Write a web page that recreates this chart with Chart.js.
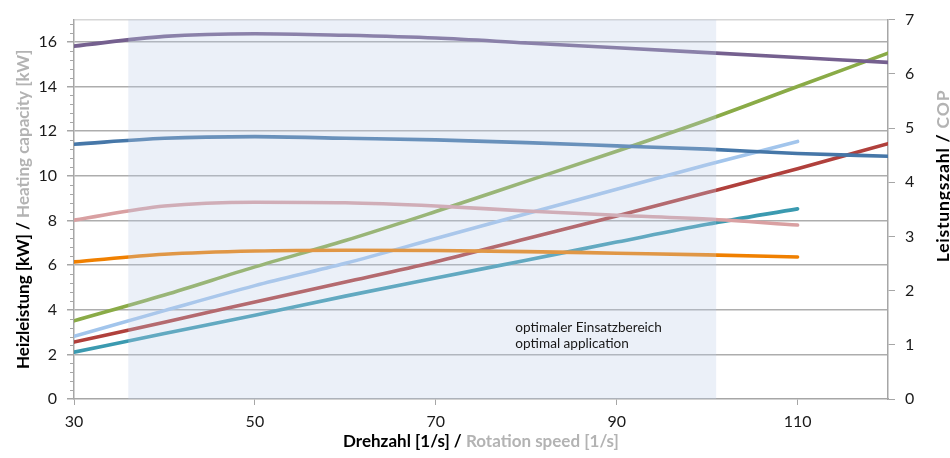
<!DOCTYPE html>
<html><head><meta charset="utf-8">
<script src="https://cdn.jsdelivr.net/npm/chart.js@4/dist/chart.umd.min.js"></script>
<style>html,body{margin:0;padding:0;background:#fff}#wrap{width:950px;height:458px;position:relative}</style>
</head><body><div id="wrap"><canvas id="c"></canvas></div>
<script>
// ---- data ----
const speeds = [30, 40, 50, 60, 70, 80, 90, 100, 110, 120];
const xTicks = [30, 50, 70, 90, 110];
const capTicks = [0, 2, 4, 6, 8, 10, 12, 14, 16, 17];
const copTicks = [0, 1, 2, 3, 4, 5, 6, 7];
// Heizleistung [kW] (left axis)
const capGreen = [3.5, 4.66, 5.92, 7.1, 8.4, 9.75, 11.1, 12.5, 14.0, 15.5];
const capRed = [2.55, 3.44, 4.35, 5.24, 6.15, 7.18, 8.2, 9.25, 10.32, 11.44];
const capLightBlue = [2.81, 3.96, 5.08, 6.08, 7.19, 8.3, 9.4, 10.5, 11.54];
const capTeal = [2.1, 2.93, 3.75, 4.61, 5.42, 6.22, 7.03, 7.83, 8.52];
// Leistungszahl / COP (right axis)
const copPurple = [6.51, 6.69, 6.74, 6.71, 6.66, 6.57, 6.48, 6.39, 6.30, 6.21];
const copBlue = [4.70, 4.81, 4.84, 4.81, 4.78, 4.73, 4.67, 4.61, 4.53, 4.48];
const copPink = [3.30, 3.56, 3.63, 3.62, 3.56, 3.47, 3.39, 3.32, 3.21];
const copOrange = [2.53, 2.67, 2.73, 2.745, 2.74, 2.72, 2.69, 2.66, 2.62];
// optimal range of rotation speed
const optimalRange = [36, 101];
const annotationLines = ['optimaler Einsatzbereich', 'optimal application'];

// ---- styling ----
const FONT = 'Lato, "Open Sans", sans-serif';
const pts = (arr) => arr.map((v, i) => ({ x: speeds[i], y: v }));
const ds = (label, arr, color, axis) => ({
  label, data: pts(arr), borderColor: color, backgroundColor: color,
  borderWidth: 3.6, pointRadius: 0, cubicInterpolationMode: 'monotone',
  yAxisID: axis, fill: false, borderCapStyle: 'round'
});

const decor = {
  id: 'decor',
  afterDatasetsDraw(chart) {
    const { ctx, chartArea: a, scales } = chart;
    const x = scales.x, y = scales.y;
    const x0 = x.getPixelForValue(optimalRange[0]);
    const x1 = x.getPixelForValue(optimalRange[1]);
    ctx.save();
    ctx.fillStyle = 'rgba(188,205,232,0.3)';
    ctx.fillRect(x0, a.top, x1 - x0, a.bottom - a.top);
    ctx.fillStyle = '#1a1a1a';
    ctx.font = '13.6px ' + FONT;
    ctx.textBaseline = 'middle';
    ctx.textAlign = 'left';
    const ax = x.getPixelForValue(78.8);
    ctx.fillText(annotationLines[0], ax, y.getPixelForValue(3.2));
    ctx.fillText(annotationLines[1], ax, y.getPixelForValue(2.5));
    ctx.restore();
  },
  afterDraw(chart) {
    const { ctx, chartArea: a, scales } = chart;
    const y = scales.y;
    ctx.save();
    // minor ticks on left axis
    ctx.strokeStyle = '#a6a6a6';
    ctx.lineWidth = 1;
    for (let i = 1; i * 0.4 < 17; i++) {
      if (i % 5 === 0) continue;
      const py = Math.round(y.getPixelForValue(i * 0.4)) + 0.5;
      ctx.beginPath(); ctx.moveTo(a.left - 4, py); ctx.lineTo(a.left, py); ctx.stroke();
    }
    // axis titles (two-coloured)
    const drawTitle = (parts, cx, cy, rot, size, spacing) => {
      ctx.save();
      ctx.translate(cx, cy);
      ctx.rotate(rot);
      ctx.font = 'bold ' + size + 'px ' + FONT;
      if ('letterSpacing' in ctx) ctx.letterSpacing = spacing + 'px';
      ctx.textBaseline = 'middle';
      ctx.textAlign = 'left';
      const w = parts.reduce((s, p) => s + ctx.measureText(p[0]).width, 0);
      let xx = -w / 2;
      parts.forEach(p => { ctx.fillStyle = p[1]; ctx.fillText(p[0], xx, 0); xx += ctx.measureText(p[0]).width; });
      ctx.restore();
    };
    drawTitle([['Heizleistung [kW] / ', '#000'], ['Heating capacity [kW]', '#b3b3b3']], 24, (a.top + a.bottom) / 2, -Math.PI / 2, 17, 0);
    drawTitle([['Leistungszahl / ', '#000'], ['COP', '#b3b3b3']], 943, 176, -Math.PI / 2, 17.5, 0.8);
    drawTitle([['Drehzahl [1/s] / ', '#000'], ['Rotation speed [1/s]', '#b3b3b3']], (a.left + a.right) / 2, 442, 0, 17, 0);
    ctx.restore();
  }
};

new Chart(document.getElementById('c'), {
  type: 'line',
  data: {
    datasets: [
      ds('COP 1', copPurple, '#75608f', 'y2'),
      ds('COP 2', copBlue, '#4677a8', 'y2'),
      ds('COP 3', copPink, '#d9a0a2', 'y2'),
      ds('COP 4', copOrange, '#f08000', 'y2'),
      ds('Heizleistung 1', capGreen, '#8aab47', 'y'),
      ds('Heizleistung 3', capLightBlue, '#a2c5ec', 'y'),
      ds('Heizleistung 2', capRed, '#b0403c', 'y'),
      ds('Heizleistung 4', capTeal, '#3b9ab0', 'y')
    ]
  },
  options: {
    responsive: true, maintainAspectRatio: false, animation: false,
    layout: { padding: { top: 16, left: 0, right: 0, bottom: 0 } },
    plugins: { legend: { display: false }, tooltip: { enabled: false } },
    scales: {
      x: {
        type: 'linear', min: 30, max: 120,
        afterBuildTicks: (s) => { s.ticks = xTicks.map(v => ({ value: v })); },
        afterFit: (s) => { s.height = 59; },
        grid: { drawOnChartArea: false, tickLength: 6, color: '#a6a6a6', tickColor: '#a6a6a6' },
        border: { color: '#a6a6a6', width: 1.5 },
        ticks: { font: { family: FONT, size: 16 }, color: '#1a1a1a', padding: 7, maxRotation: 0 }
      },
      y: {
        type: 'linear', position: 'left', min: 0, max: 17,
        afterBuildTicks: (s) => { s.ticks = capTicks.map(v => ({ value: v })); },
        afterFit: (s) => { s.width = 74; },
        grid: {
          color: (c) => c.tick && c.tick.value === 17 ? '#d6d6d6' : (c.tick && c.tick.value === 0 ? 'rgba(0,0,0,0)' : '#adadad'),
          tickColor: (c) => c.tick && c.tick.value === 17 ? 'rgba(0,0,0,0)' : '#a6a6a6',
          lineWidth: 1.5, tickLength: 7
        },
        border: { color: '#a6a6a6', width: 1.5 },
        ticks: {
          font: { family: FONT, size: 16 }, color: '#1a1a1a', padding: 10,
          callback: (v) => v === 17 ? '' : v
        }
      },
      y2: {
        type: 'linear', position: 'right', min: 0, max: 7,
        afterBuildTicks: (s) => { s.ticks = copTicks.map(v => ({ value: v })); },
        afterFit: (s) => { s.width = 62; },
        grid: { drawOnChartArea: false, tickLength: 7, color: '#a6a6a6', tickColor: '#a6a6a6' },
        border: { color: '#a6a6a6', width: 1.5 },
        ticks: { font: { family: FONT, size: 16 }, color: '#1a1a1a', padding: 10 }
      }
    }
  },
  plugins: [decor]
});
</script>
</body></html>
